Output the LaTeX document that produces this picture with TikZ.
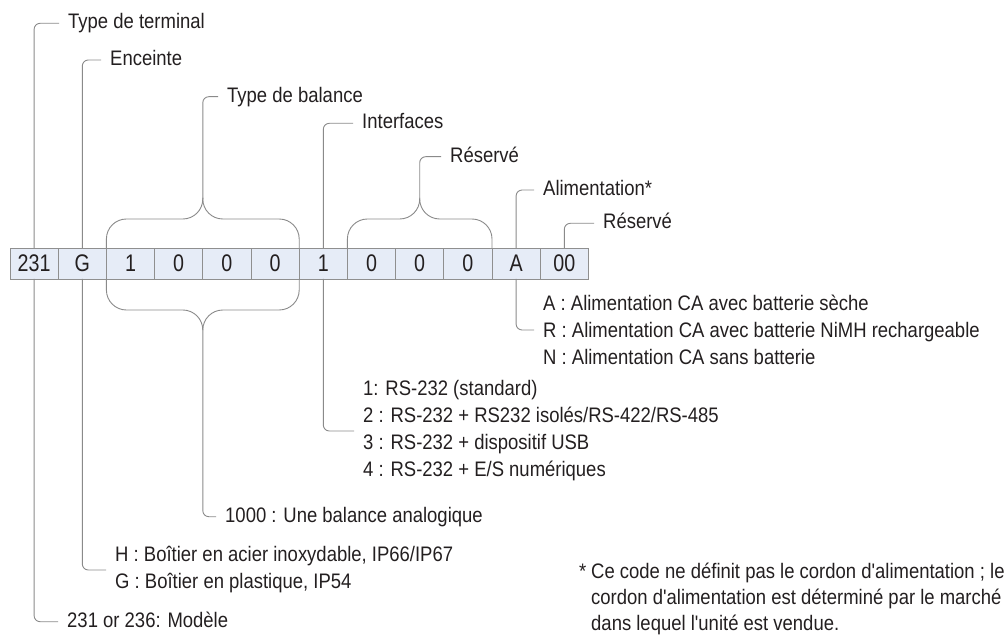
\documentclass[tikz,border=0pt]{standalone}
\usepackage{fontspec}
\setmainfont{Liberation Sans}[FakeStretch=0.88,Ligatures=TeXOff]
\newfontfamily\boxfont{Liberation Sans}[FakeStretch=0.82]
\usetikzlibrary{calc}
\definecolor{lineC}{HTML}{8A8A8A}
\definecolor{boxC}{HTML}{8F8F8F}
\definecolor{fillC}{HTML}{E6ECF7}
\definecolor{txtC}{HTML}{231F20}
\begin{document}
\begin{tikzpicture}[x=1pt,y=-1pt,
  cell/.style={draw=boxC, fill=fillC, line width=0.9pt, minimum width=48.2pt, minimum height=31pt, inner sep=0pt, outer sep=0pt, font=\boxfont\fontsize{24}{24}\selectfont, text=txtC},
  lab/.style={anchor=west, inner xsep=9pt, inner ysep=0pt, text height=14pt, text depth=3pt, font=\fontsize{21}{27}\selectfont, text=txtC},
  blk/.style={anchor=west, inner xsep=9pt, inner ysep=0pt, align=left, font=\fontsize{21}{27}\selectfont, text=txtC},
  fn/.style={anchor=base west, inner sep=0pt, font=\fontsize{21}{27}\selectfont, text=txtC},
  leader/.style={draw=lineC, line width=0.9pt, rounded corners=6pt},
  brace/.style={draw=lineC, line width=0.9pt, rounded corners=20pt}]
\useasboundingbox (0,0) rectangle (1004,636);

% code boxes
\foreach \t [count=\i] in {231,G,1,0,0,0,1,0,0,0,A,00}
  \node[cell] (b\i) at ({10+48.2*(\i-0.5)},263.5) {\t};

% top labels
\node[lab] (t1) at (59,23.3) {Type de terminal};
\node[lab] (t2) at (101,60) {Enceinte};
\node[lab] (t3) at (218,96.7) {Type de balance};
\node[lab] (t4) at (353,123.3) {Interfaces};
\node[lab] (t5) at (441,156.7) {Réservé};
\node[lab] (t6) at (534,190) {Alimentation*};
\node[lab] (t7) at (594,223.3) {Réservé};

% bottom labels
\node[lab] (a1) at (58,621.7) {231 or 236: Modèle};
\node[blk] (a2) at (106,570) {H : Boîtier en acier inoxydable, IP66/IP67\\G : Boîtier en plastique, IP54};
\node[lab] (a3) at (216,516.7) {1000 : Une balance analogique};
\node[blk] (a4) at (354,431) {1: RS-232 (standard)\\2 : RS-232 + RS232 isolés/RS-422/RS-485\\3 : RS-232 + dispositif USB\\4 : RS-232 + E/S numériques};
\node[blk] (a5) at (534,330) {A : Alimentation CA avec batterie sèche\\R : Alimentation CA avec batterie NiMH rechargeable\\N : Alimentation CA sans batterie};

% footnote
\node[fn] (fs) at (579,578) {*};
\node[fn] (f1) at (591,578) {Ce code ne définit pas le cordon d'alimentation ; le};
\node[fn] (f2) at (591,604) {cordon d'alimentation est déterminé par le marché};
\node[fn] (f3) at (591,630) {dans lequel l'unité est vendue.};

% braces: type de balance (top and bottom)
\coordinate (mA) at ($(b3.north west)!0.5!(b6.north east)$);
\coordinate (hA) at ($(mA)+(0,-29)$);
\coordinate (tA) at ($(mA)+(0,-50)$);
\draw[brace] (b3.north west) |- (hA) -- (tA);
\draw[brace] (b6.north east) |- (hA) -- (tA);
\draw[leader] (tA) |- (t3.west);

\coordinate (nA) at ($(b3.south west)!0.5!(b6.south east)$);
\coordinate (gA) at ($(nA)+(0,31)$);
\coordinate (uA) at ($(nA)+(0,51)$);
\draw[brace] (b3.south west) |- (gA) -- (uA);
\draw[brace] (b6.south east) |- (gA) -- (uA);
\draw[leader] (uA) |- (a3.west);

% brace: reserve
\coordinate (mB) at ($(b8.north west)!0.5!(b10.north east)$);
\coordinate (hB) at ($(mB)+(0,-29)$);
\coordinate (tB) at ($(mB)+(0,-50)$);
\draw[brace] (b8.north west) |- (hB) -- (tB);
\draw[brace] (b10.north east) |- (hB) -- (tB);
\draw[leader] (tB) |- (t5.west);

% leaders
\draw[leader] (b1.north) |- (t1.west);
\draw[leader] (b2.north) |- (t2.west);
\draw[leader] (b7.north) |- (t4.west);
\draw[leader] (b11.north) |- (t6.west);
\draw[leader] (b12.north) |- (t7.west);
\draw[leader] (b1.south) |- (a1.west);
\draw[leader] (b2.south) |- (a2.west);
\draw[leader] (b7.south) |- (a4.west);
\draw[leader] (b11.south) |- (a5.west);
\end{tikzpicture}
\end{document}
